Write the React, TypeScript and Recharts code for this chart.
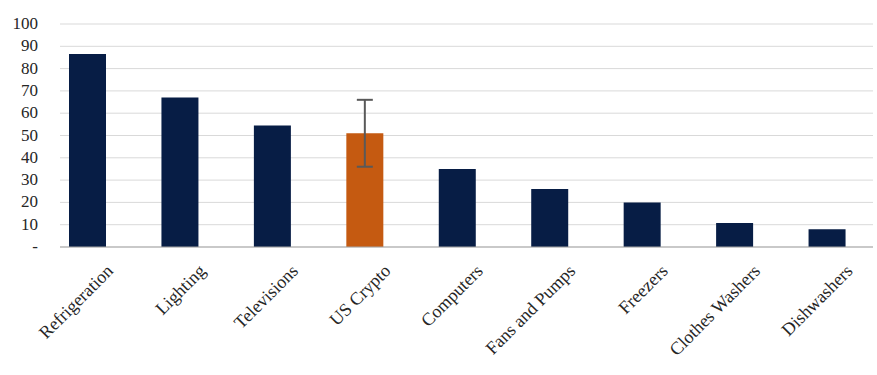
import React from 'react';
import { BarChart, Bar, Cell, XAxis, YAxis, CartesianGrid, ErrorBar } from 'recharts';

const categories = [
    'Refrigeration',
    'Lighting',
    'Televisions',
    'US Crypto',
    'Computers',
    'Fans and Pumps',
    'Freezers',
    'Clothes Washers',
    'Dishwashers',
];
const values = [86.5, 67, 54.5, 51, 35, 26, 20, 10.8, 8];
const errors = [0, 0, 0, 15, 0, 0, 0, 0, 0];
const yTicks = [0, 10, 20, 30, 40, 50, 60, 70, 80, 90, 100];
const highlight = 'US Crypto';

const data = categories.map((name, i) => ({ name, value: values[i], err: errors[i] }));

const textStyle: React.CSSProperties = {
    fontFamily: 'Liberation Serif',
    fontSize: 17,
};

const YTick = ({ y, payload }: any) => (
    <text x={38} y={y} dy={5} textAnchor="end" style={textStyle} fill="#262626">
        {payload.value === 0 ? '-' : payload.value}
    </text>
);

const XTick = ({ x, y, payload }: any) => (
    <g transform={`translate(${x + 27},${y + 17})`}>
        <text textAnchor="end" transform="rotate(-45)" style={{ ...textStyle, fontSize: 18 }} fill="#262626">
            {payload.value}
        </text>
    </g>
);

const App: React.FC = () => {
    return (
        <div style={{ position: 'absolute', left: 0, top: 0, width: 877, height: 375, background: '#fff', fontFamily: 'Liberation Serif' }}>
            <BarChart width={877} height={375} data={data} margin={{ top: 24, right: 4, bottom: 0, left: 0 }}>
                <CartesianGrid vertical={false} stroke="#d9d9d9" strokeWidth={1} />
                <XAxis
                    dataKey="name"
                    height={128}
                    interval={0}
                    tickLine={false}
                    axisLine={{ stroke: '#a6a6a6' }}
                    padding={{ left: -19, right: 0 }}
                    tick={<XTick />}
                />
                <YAxis
                    width={60}
                    domain={[0, 100]}
                    ticks={yTicks}
                    interval={0}
                    axisLine={false}
                    tickLine={false}
                    tick={<YTick />}
                />
                <Bar dataKey="value" barSize={37} isAnimationActive={false}>
                    {data.map((d) => (
                        <Cell key={d.name} fill={d.name === highlight ? '#c55a11' : '#071d45'} />
                    ))}
                    <ErrorBar dataKey="err" width={8} stroke="#595959" strokeWidth={2} />
                </Bar>
            </BarChart>
        </div>
    );
};

export default App;
